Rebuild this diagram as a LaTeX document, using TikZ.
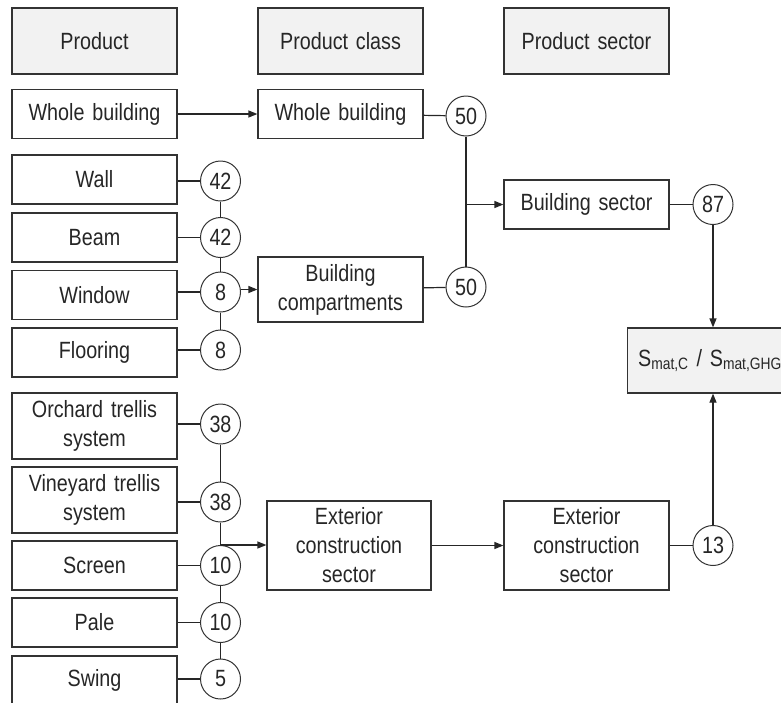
\documentclass[tikz,border=0pt]{standalone}
\usepackage{fontspec}
\setmainfont{Liberation Sans}[FakeStretch=0.84, WordSpace=0.85]
\usetikzlibrary{arrows.meta}

\begin{document}
\begin{tikzpicture}[x=1pt,y=-1pt,
  lbl/.style={font=\fontsize{23.5}{29}\selectfont, text=black!85},
  box/.style={lbl, draw=black!80, line width=1.2pt, minimum width=165pt,
    text width=155pt, align=center, inner sep=0pt},
  head/.style={box, fill=black!5, minimum height=66pt},
  onerow/.style={box, minimum height=49pt},
  tworow/.style={box, minimum height=66pt},
  num/.style={lbl, circle, draw=black!80, line width=1pt, minimum size=40pt,
    inner sep=0pt},
  link/.style={line width=1.2pt, draw=black!85},
  arr/.style={link, -{Triangle[length=9pt,width=7pt]}},
]
\useasboundingbox (0,0) rectangle (781,702);

% column headings
\node[head] (hprod) at (94.5,41) {Product};
\node[head] (hclass) at (340.5,41) {Product class};
\node[head] (hsect) at (586.5,41) {Product sector};

% products
\node[onerow] (pwb) at (94.5,114) {Whole building};
\node[onerow] (pwall) at (94.5,179.5) {Wall};
\node[onerow] (pbeam) at (94.5,237.5) {Beam};
\node[onerow] (pwin) at (94.5,295) {Window};
\node[onerow] (pfloor) at (94.5,352.5) {Flooring};
\node[tworow] (porch) at (94.5,426) {Orchard trellis\\system};
\node[tworow] (pvine) at (94.5,500) {Vineyard trellis\\system};
\node[onerow] (pscreen) at (94.5,565.5) {Screen};
\node[onerow] (ppale) at (94.5,622.5) {Pale};
\node[onerow] (pswing) at (94.5,680.5) {Swing};

% shares per product
\node[num] (nwall) at (220.5,181) {42};
\node[num] (nbeam) at (220.5,237.5) {42};
\node[num] (nwin) at (220.5,292) {8};
\node[num] (nfloor) at (220.5,350) {8};
\node[num] (norch) at (220.5,424) {38};
\node[num] (nvine) at (220.5,502) {38};
\node[num] (nscreen) at (220.5,565.5) {10};
\node[num] (npale) at (220.5,622.5) {10};
\node[num] (nswing) at (220.5,679) {5};

% product classes
\node[onerow] (cwb) at (340.5,114) {Whole building};
\node[box, minimum height=65pt] (ccomp) at (340.5,289.5) {Building\\compartments};
\node[box, minimum width=164pt, minimum height=89pt] (cext) at (349,545.5) {Exterior\\construction\\sector};

\node[num] (ncwb) at (466,116) {50};
\node[num] (nccomp) at (466,287) {50};

% product sectors
\node[onerow] (sbuild) at (586.5,204.5) {Building sector};
\node[box, minimum height=89pt] (sext) at (586.5,545.5) {Exterior\\construction\\sector};
\node[num] (nsbuild) at (713,204.5) {87};
\node[num] (nsext) at (713,545.5) {13};

% result
\node[head, minimum height=65pt] (smat) at (710,360.5)
  {S\textsubscript{mat,C} / S\textsubscript{mat,GHG}};

% product to share links
\foreach \p/\n in {pwall/nwall, pbeam/nbeam, pwin/nwin, pfloor/nfloor,
  porch/norch, pvine/nvine, pscreen/nscreen, ppale/npale, pswing/nswing}
  \draw[link] (\p.east |- \n) -- (\n.west);

% chains of shares
\draw[link] (nwall) -- (nbeam);
\draw[link] (nbeam) -- (nwin);
\draw[link] (nwin) -- (nfloor);
\draw[link] (norch) -- (nvine);
\draw[link] (nvine) -- (nscreen);
\draw[link] (nscreen) -- (npale);
\draw[link] (npale) -- (nswing);

% flows into product classes
\draw[arr] (pwb) -- (cwb);
\draw[arr] (nwin.east |- ccomp.west) -- (ccomp.west);
\draw[arr] (nscreen.north) -- (cext.west |- nscreen.north);

% product classes to sectors
\draw[link] (cwb) -- (ncwb);
\draw[link] (ccomp) -- (nccomp);
\draw[link] (ncwb) -- (nccomp);
\coordinate (jb) at (ncwb |- sbuild);
\draw[arr] (jb) -- (sbuild.west);
\draw[arr] (cext) -- (sext);

% sectors to result
\draw[link] (sbuild) -- (nsbuild);
\draw[link] (sext) -- (nsext);
\draw[arr] (nsbuild.south) -- (nsbuild.south |- smat.north);
\draw[arr] (nsext.north) -- (nsext.north |- smat.south);
\end{tikzpicture}
\end{document}
